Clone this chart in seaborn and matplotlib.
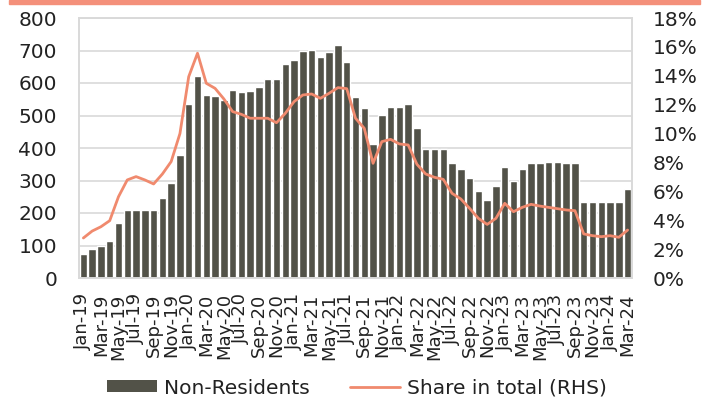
import numpy as np
import pandas as pd
import matplotlib
matplotlib.use("Agg")
import matplotlib.pyplot as plt
import seaborn as sns
from matplotlib.patches import Rectangle
from matplotlib.lines import Line2D
from matplotlib.patches import Patch

months = pd.date_range("2019-01-01", "2024-03-01", freq="MS").strftime("%b-%y").tolist()

non_residents = [75, 90, 100, 113, 170, 209, 210, 210, 210, 247, 292, 380,
                 535, 621, 562, 560, 548, 577, 573, 576, 587, 613, 611, 658,
                 670, 698, 701, 681, 695, 716, 664, 557, 524, 411, 502, 525,
                 525, 536, 462, 398, 398, 398, 353, 336, 307, 267, 239, 284,
                 343, 300, 334, 354, 354, 357, 357, 354, 354, 235, 235, 235,
                 235, 235, 275]

share_pct = [2.77, 3.25, 3.55, 3.97, 5.63, 6.79, 7.02, 6.79, 6.51, 7.2, 8.06, 10.0,
             13.94, 15.56, 13.48, 13.13, 12.4, 11.52, 11.33, 11.06, 11.06, 11.06, 10.75, 11.4,
             12.21, 12.67, 12.74, 12.44, 12.79, 13.18, 13.11, 11.06, 10.36, 7.94, 9.44, 9.6,
             9.28, 9.21, 7.87, 7.2, 6.97, 6.83, 5.86, 5.47, 4.82, 4.13, 3.71, 4.13,
             5.17, 4.59, 4.89, 5.1, 4.98, 4.89, 4.8, 4.71, 4.66, 3.05, 2.93, 2.86,
             2.93, 2.82, 3.32]

left_ticks = [0, 100, 200, 300, 400, 500, 600, 700, 800]
right_ticks = [0, 2, 4, 6, 8, 10, 12, 14, 16, 18]

bar_color = "#525248"
line_color = "#F08A6E"
grid_color = "#D9D9D9"
text_color = "#222222"

sns.set_theme(style="white")
plt.rcParams["font.family"] = ["DejaVu Sans"]

df = pd.DataFrame({"month": months, "nr": non_residents, "share": share_pct})

fig = plt.figure(figsize=(7.05, 4.01), dpi=100)
ax = fig.add_axes([79/705, 1-278/401, (632-79)/705, (278-18)/401])

sns.barplot(data=df, x="month", y="nr", color=bar_color, width=0.84,
            saturation=1, ax=ax, zorder=2)
ax.set_ylim(0, 800)
ax.set_yticks(left_ticks)
ax.set_xlim(-0.5, len(months) - 0.5)
ax.grid(axis="y", color=grid_color, linewidth=1.2, zorder=0)
ax.set_axisbelow(True)
ax.set_xlabel("")
ax.set_ylabel("")
ax.set_xticks(range(0, len(months), 2))
ax.set_xticklabels(months[::2], rotation=90)
ax.tick_params(axis="x", length=0, pad=11, labelsize=13, colors=text_color)
ax.tick_params(axis="y", length=0, pad=15.8, labelsize=14.5, colors=text_color)
for s in ax.spines.values():
    s.set_color(grid_color)
    s.set_linewidth(1.2)

ax2 = ax.twinx()
sns.lineplot(x=np.arange(len(months)), y=share_pct, ax=ax2, color=line_color,
             linewidth=2.0)
ax2.set_ylim(0, 18)
ax2.set_yticks(right_ticks)
ax2.set_yticklabels([f"{t}%" for t in right_ticks])
ax2.tick_params(axis="y", length=0, pad=15, labelsize=14.5, colors=text_color)
ax2.set_xlim(-0.5, len(months) - 0.5)
for s in ax2.spines.values():
    s.set_color(grid_color)
    s.set_linewidth(1.2)

# top decorative band
fig.patches.append(Rectangle((9/705, 1-3.5/401), (700-9)/705, 3.5/401,
                             transform=fig.transFigure, color="#F4907A",
                             zorder=10))

handles = [Patch(facecolor=bar_color, edgecolor="none"),
           Line2D([0], [0], color=line_color, linewidth=2.0)]
fig.legend(handles, ["Non-Residents", "Share in total (RHS)"], ncol=2,
           loc="center", bbox_to_anchor=(357/705, 1-388/401), frameon=False,
           fontsize=14.5, handlelength=2.5, handleheight=0.55,
           columnspacing=2.0, handletextpad=0.35, labelcolor=text_color,
           borderpad=0, borderaxespad=0)

fig.savefig("out.png", dpi=100)
